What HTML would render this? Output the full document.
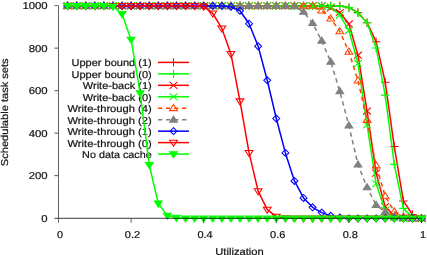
<!DOCTYPE html>
<html><head><meta charset="utf-8"><style>html,body{margin:0;padding:0;background:#fff;overflow:hidden}svg{display:block;will-change:transform}text{text-rendering:geometricPrecision}</style></head>
<body><svg width="427" height="255" viewBox="0 0 427 255"><rect width="427" height="255" fill="#fff"/><text x="47.6" y="221.70" text-anchor="end" font-family="Liberation Sans, sans-serif" font-size="10" fill="#111" stroke="#111" stroke-width="0.2" textLength="6.3" lengthAdjust="spacingAndGlyphs">0</text><text x="47.6" y="179.21" text-anchor="end" font-family="Liberation Sans, sans-serif" font-size="10" fill="#111" stroke="#111" stroke-width="0.2" textLength="18.9" lengthAdjust="spacingAndGlyphs">200</text><text x="47.6" y="136.72" text-anchor="end" font-family="Liberation Sans, sans-serif" font-size="10" fill="#111" stroke="#111" stroke-width="0.2" textLength="18.9" lengthAdjust="spacingAndGlyphs">400</text><text x="47.6" y="94.23" text-anchor="end" font-family="Liberation Sans, sans-serif" font-size="10" fill="#111" stroke="#111" stroke-width="0.2" textLength="18.9" lengthAdjust="spacingAndGlyphs">600</text><text x="47.6" y="51.74" text-anchor="end" font-family="Liberation Sans, sans-serif" font-size="10" fill="#111" stroke="#111" stroke-width="0.2" textLength="18.9" lengthAdjust="spacingAndGlyphs">800</text><text x="47.6" y="9.25" text-anchor="end" font-family="Liberation Sans, sans-serif" font-size="10" fill="#111" stroke="#111" stroke-width="0.2" textLength="25.2" lengthAdjust="spacingAndGlyphs">1000</text><text x="59.90" y="237.9" text-anchor="middle" font-family="Liberation Sans, sans-serif" font-size="10" fill="#111" stroke="#111" stroke-width="0.2" textLength="6.0" lengthAdjust="spacingAndGlyphs">0</text><text x="132.50" y="237.9" text-anchor="middle" font-family="Liberation Sans, sans-serif" font-size="10" fill="#111" stroke="#111" stroke-width="0.2" textLength="15.3" lengthAdjust="spacingAndGlyphs">0.2</text><text x="205.10" y="237.9" text-anchor="middle" font-family="Liberation Sans, sans-serif" font-size="10" fill="#111" stroke="#111" stroke-width="0.2" textLength="15.3" lengthAdjust="spacingAndGlyphs">0.4</text><text x="277.70" y="237.9" text-anchor="middle" font-family="Liberation Sans, sans-serif" font-size="10" fill="#111" stroke="#111" stroke-width="0.2" textLength="15.3" lengthAdjust="spacingAndGlyphs">0.6</text><text x="350.30" y="237.9" text-anchor="middle" font-family="Liberation Sans, sans-serif" font-size="10" fill="#111" stroke="#111" stroke-width="0.2" textLength="15.3" lengthAdjust="spacingAndGlyphs">0.8</text><text x="422.90" y="237.9" text-anchor="middle" font-family="Liberation Sans, sans-serif" font-size="10" fill="#111" stroke="#111" stroke-width="0.2" textLength="6.0" lengthAdjust="spacingAndGlyphs">1</text><text x="239.5" y="254.6" text-anchor="middle" font-family="Liberation Sans, sans-serif" font-size="10" fill="#111" stroke="#111" stroke-width="0.2" textLength="48.5" lengthAdjust="spacingAndGlyphs">Utilization</text><text transform="translate(8.2 112.3) rotate(-90)" x="0" y="0" text-anchor="middle" font-family="Liberation Sans, sans-serif" font-size="10" fill="#111" stroke="#111" stroke-width="0.2" textLength="107.8" lengthAdjust="spacingAndGlyphs">Schedulable task sets</text><text x="151.7" y="66.30" text-anchor="end" font-family="Liberation Sans, sans-serif" font-size="10" fill="#111" stroke="#111" stroke-width="0.2" textLength="80.2" lengthAdjust="spacingAndGlyphs">Upper bound (1)</text><path d="M158.0 62.40H189.0" stroke="#ff0000" stroke-width="1.5" fill="none"/><path d="M169.30 62.40H177.70M173.50 58.20V66.60" stroke="#ff0000" stroke-width="1.05" fill="none"/><path d="M67.58 5.90L76.65 5.90L85.73 5.90L94.80 5.90L103.88 5.90L112.95 5.90L122.03 5.90L131.10 5.90L140.18 5.90L149.25 5.90L158.32 5.90L167.40 5.90L176.48 5.90L185.55 5.90L194.62 5.90L203.70 5.90L212.78 5.90L221.85 5.90L230.93 5.90L240.00 5.90L249.08 5.90L258.15 5.90L267.23 5.90L276.30 5.90L285.38 5.90L294.45 5.90L303.52 5.90L312.60 5.90L321.68 5.90L330.75 5.90L339.82 5.90L348.90 7.60L357.98 12.49L367.05 22.68L376.12 41.80L385.20 82.17L394.28 146.54L403.35 200.93L412.43 214.53L421.50 218.35" stroke="#ff0000" stroke-width="1.5" fill="none" stroke-linejoin="round"/><path d="M63.38 5.90H71.78M67.58 1.70V10.10" stroke="#ff0000" stroke-width="1.05" fill="none"/><path d="M72.45 5.90H80.85M76.65 1.70V10.10" stroke="#ff0000" stroke-width="1.05" fill="none"/><path d="M81.53 5.90H89.93M85.73 1.70V10.10" stroke="#ff0000" stroke-width="1.05" fill="none"/><path d="M90.60 5.90H99.00M94.80 1.70V10.10" stroke="#ff0000" stroke-width="1.05" fill="none"/><path d="M99.67 5.90H108.08M103.88 1.70V10.10" stroke="#ff0000" stroke-width="1.05" fill="none"/><path d="M108.75 5.90H117.15M112.95 1.70V10.10" stroke="#ff0000" stroke-width="1.05" fill="none"/><path d="M117.83 5.90H126.23M122.03 1.70V10.10" stroke="#ff0000" stroke-width="1.05" fill="none"/><path d="M126.90 5.90H135.30M131.10 1.70V10.10" stroke="#ff0000" stroke-width="1.05" fill="none"/><path d="M135.98 5.90H144.38M140.18 1.70V10.10" stroke="#ff0000" stroke-width="1.05" fill="none"/><path d="M145.05 5.90H153.45M149.25 1.70V10.10" stroke="#ff0000" stroke-width="1.05" fill="none"/><path d="M154.12 5.90H162.52M158.32 1.70V10.10" stroke="#ff0000" stroke-width="1.05" fill="none"/><path d="M163.20 5.90H171.60M167.40 1.70V10.10" stroke="#ff0000" stroke-width="1.05" fill="none"/><path d="M172.28 5.90H180.68M176.48 1.70V10.10" stroke="#ff0000" stroke-width="1.05" fill="none"/><path d="M181.35 5.90H189.75M185.55 1.70V10.10" stroke="#ff0000" stroke-width="1.05" fill="none"/><path d="M190.43 5.90H198.82M194.62 1.70V10.10" stroke="#ff0000" stroke-width="1.05" fill="none"/><path d="M199.50 5.90H207.90M203.70 1.70V10.10" stroke="#ff0000" stroke-width="1.05" fill="none"/><path d="M208.58 5.90H216.97M212.78 1.70V10.10" stroke="#ff0000" stroke-width="1.05" fill="none"/><path d="M217.65 5.90H226.05M221.85 1.70V10.10" stroke="#ff0000" stroke-width="1.05" fill="none"/><path d="M226.73 5.90H235.12M230.93 1.70V10.10" stroke="#ff0000" stroke-width="1.05" fill="none"/><path d="M235.80 5.90H244.20M240.00 1.70V10.10" stroke="#ff0000" stroke-width="1.05" fill="none"/><path d="M244.88 5.90H253.28M249.08 1.70V10.10" stroke="#ff0000" stroke-width="1.05" fill="none"/><path d="M253.95 5.90H262.35M258.15 1.70V10.10" stroke="#ff0000" stroke-width="1.05" fill="none"/><path d="M263.03 5.90H271.43M267.23 1.70V10.10" stroke="#ff0000" stroke-width="1.05" fill="none"/><path d="M272.10 5.90H280.50M276.30 1.70V10.10" stroke="#ff0000" stroke-width="1.05" fill="none"/><path d="M281.18 5.90H289.57M285.38 1.70V10.10" stroke="#ff0000" stroke-width="1.05" fill="none"/><path d="M290.25 5.90H298.65M294.45 1.70V10.10" stroke="#ff0000" stroke-width="1.05" fill="none"/><path d="M299.32 5.90H307.72M303.52 1.70V10.10" stroke="#ff0000" stroke-width="1.05" fill="none"/><path d="M308.40 5.90H316.80M312.60 1.70V10.10" stroke="#ff0000" stroke-width="1.05" fill="none"/><path d="M317.48 5.90H325.88M321.68 1.70V10.10" stroke="#ff0000" stroke-width="1.05" fill="none"/><path d="M326.55 5.90H334.95M330.75 1.70V10.10" stroke="#ff0000" stroke-width="1.05" fill="none"/><path d="M335.62 5.90H344.02M339.82 1.70V10.10" stroke="#ff0000" stroke-width="1.05" fill="none"/><path d="M344.70 7.60H353.10M348.90 3.40V11.80" stroke="#ff0000" stroke-width="1.05" fill="none"/><path d="M353.78 12.49H362.18M357.98 8.29V16.69" stroke="#ff0000" stroke-width="1.05" fill="none"/><path d="M362.85 22.68H371.25M367.05 18.48V26.88" stroke="#ff0000" stroke-width="1.05" fill="none"/><path d="M371.93 41.80H380.32M376.12 37.60V46.00" stroke="#ff0000" stroke-width="1.05" fill="none"/><path d="M381.00 82.17H389.40M385.20 77.97V86.37" stroke="#ff0000" stroke-width="1.05" fill="none"/><path d="M390.08 146.54H398.48M394.28 142.34V150.74" stroke="#ff0000" stroke-width="1.05" fill="none"/><path d="M399.15 200.93H407.55M403.35 196.73V205.13" stroke="#ff0000" stroke-width="1.05" fill="none"/><path d="M408.23 214.53H416.62M412.43 210.33V218.73" stroke="#ff0000" stroke-width="1.05" fill="none"/><path d="M417.30 218.35H425.70M421.50 214.15V222.55" stroke="#ff0000" stroke-width="1.05" fill="none"/><text x="151.7" y="77.76" text-anchor="end" font-family="Liberation Sans, sans-serif" font-size="10" fill="#111" stroke="#111" stroke-width="0.2" textLength="80.2" lengthAdjust="spacingAndGlyphs">Upper bound (0)</text><path d="M158.0 73.86H189.0" stroke="#00ff00" stroke-width="1.5" fill="none"/><path d="M169.30 73.86H177.70M173.50 69.66V78.06" stroke="#00ff00" stroke-width="1.05" fill="none"/><path d="M67.58 5.90L76.65 5.90L85.73 5.90L94.80 5.90L103.88 5.90L112.95 5.90L122.03 5.90L131.10 5.90L140.18 5.90L149.25 5.90L158.32 5.90L167.40 5.90L176.48 5.90L185.55 5.90L194.62 5.90L203.70 5.90L212.78 5.90L221.85 5.90L230.93 5.90L240.00 5.90L249.08 5.90L258.15 5.90L267.23 5.90L276.30 5.90L285.38 5.90L294.45 5.90L303.52 5.90L312.60 5.90L321.68 5.90L330.75 5.90L339.82 5.90L348.90 7.60L357.98 12.91L367.05 22.68L376.12 47.97L385.20 95.13L394.28 164.39L403.35 208.36L412.43 217.29L421.50 218.35" stroke="#00ff00" stroke-width="1.5" fill="none" stroke-linejoin="round"/><path d="M63.38 5.90H71.78M67.58 1.70V10.10" stroke="#00ff00" stroke-width="1.05" fill="none"/><path d="M72.45 5.90H80.85M76.65 1.70V10.10" stroke="#00ff00" stroke-width="1.05" fill="none"/><path d="M81.53 5.90H89.93M85.73 1.70V10.10" stroke="#00ff00" stroke-width="1.05" fill="none"/><path d="M90.60 5.90H99.00M94.80 1.70V10.10" stroke="#00ff00" stroke-width="1.05" fill="none"/><path d="M99.67 5.90H108.08M103.88 1.70V10.10" stroke="#00ff00" stroke-width="1.05" fill="none"/><path d="M108.75 5.90H117.15M112.95 1.70V10.10" stroke="#00ff00" stroke-width="1.05" fill="none"/><path d="M117.83 5.90H126.23M122.03 1.70V10.10" stroke="#00ff00" stroke-width="1.05" fill="none"/><path d="M126.90 5.90H135.30M131.10 1.70V10.10" stroke="#00ff00" stroke-width="1.05" fill="none"/><path d="M135.98 5.90H144.38M140.18 1.70V10.10" stroke="#00ff00" stroke-width="1.05" fill="none"/><path d="M145.05 5.90H153.45M149.25 1.70V10.10" stroke="#00ff00" stroke-width="1.05" fill="none"/><path d="M154.12 5.90H162.52M158.32 1.70V10.10" stroke="#00ff00" stroke-width="1.05" fill="none"/><path d="M163.20 5.90H171.60M167.40 1.70V10.10" stroke="#00ff00" stroke-width="1.05" fill="none"/><path d="M172.28 5.90H180.68M176.48 1.70V10.10" stroke="#00ff00" stroke-width="1.05" fill="none"/><path d="M181.35 5.90H189.75M185.55 1.70V10.10" stroke="#00ff00" stroke-width="1.05" fill="none"/><path d="M190.43 5.90H198.82M194.62 1.70V10.10" stroke="#00ff00" stroke-width="1.05" fill="none"/><path d="M199.50 5.90H207.90M203.70 1.70V10.10" stroke="#00ff00" stroke-width="1.05" fill="none"/><path d="M208.58 5.90H216.97M212.78 1.70V10.10" stroke="#00ff00" stroke-width="1.05" fill="none"/><path d="M217.65 5.90H226.05M221.85 1.70V10.10" stroke="#00ff00" stroke-width="1.05" fill="none"/><path d="M226.73 5.90H235.12M230.93 1.70V10.10" stroke="#00ff00" stroke-width="1.05" fill="none"/><path d="M235.80 5.90H244.20M240.00 1.70V10.10" stroke="#00ff00" stroke-width="1.05" fill="none"/><path d="M244.88 5.90H253.28M249.08 1.70V10.10" stroke="#00ff00" stroke-width="1.05" fill="none"/><path d="M253.95 5.90H262.35M258.15 1.70V10.10" stroke="#00ff00" stroke-width="1.05" fill="none"/><path d="M263.03 5.90H271.43M267.23 1.70V10.10" stroke="#00ff00" stroke-width="1.05" fill="none"/><path d="M272.10 5.90H280.50M276.30 1.70V10.10" stroke="#00ff00" stroke-width="1.05" fill="none"/><path d="M281.18 5.90H289.57M285.38 1.70V10.10" stroke="#00ff00" stroke-width="1.05" fill="none"/><path d="M290.25 5.90H298.65M294.45 1.70V10.10" stroke="#00ff00" stroke-width="1.05" fill="none"/><path d="M299.32 5.90H307.72M303.52 1.70V10.10" stroke="#00ff00" stroke-width="1.05" fill="none"/><path d="M308.40 5.90H316.80M312.60 1.70V10.10" stroke="#00ff00" stroke-width="1.05" fill="none"/><path d="M317.48 5.90H325.88M321.68 1.70V10.10" stroke="#00ff00" stroke-width="1.05" fill="none"/><path d="M326.55 5.90H334.95M330.75 1.70V10.10" stroke="#00ff00" stroke-width="1.05" fill="none"/><path d="M335.62 5.90H344.02M339.82 1.70V10.10" stroke="#00ff00" stroke-width="1.05" fill="none"/><path d="M344.70 7.60H353.10M348.90 3.40V11.80" stroke="#00ff00" stroke-width="1.05" fill="none"/><path d="M353.78 12.91H362.18M357.98 8.71V17.11" stroke="#00ff00" stroke-width="1.05" fill="none"/><path d="M362.85 22.68H371.25M367.05 18.48V26.88" stroke="#00ff00" stroke-width="1.05" fill="none"/><path d="M371.93 47.97H380.32M376.12 43.77V52.17" stroke="#00ff00" stroke-width="1.05" fill="none"/><path d="M381.00 95.13H389.40M385.20 90.93V99.33" stroke="#00ff00" stroke-width="1.05" fill="none"/><path d="M390.08 164.39H398.48M394.28 160.19V168.59" stroke="#00ff00" stroke-width="1.05" fill="none"/><path d="M399.15 208.36H407.55M403.35 204.16V212.56" stroke="#00ff00" stroke-width="1.05" fill="none"/><path d="M408.23 217.29H416.62M412.43 213.09V221.49" stroke="#00ff00" stroke-width="1.05" fill="none"/><path d="M417.30 218.35H425.70M421.50 214.15V222.55" stroke="#00ff00" stroke-width="1.05" fill="none"/><text x="151.7" y="89.22" text-anchor="end" font-family="Liberation Sans, sans-serif" font-size="10" fill="#111" stroke="#111" stroke-width="0.2" textLength="68.9" lengthAdjust="spacingAndGlyphs">Write-back (1)</text><path d="M158.0 85.32H189.0" stroke="#ff0000" stroke-width="1.5" fill="none"/><path d="M169.60 81.87L177.40 88.77M169.60 88.77L177.40 81.87" stroke="#ff0000" stroke-width="1.05" fill="none"/><path d="M67.58 5.90L76.65 5.90L85.73 5.90L94.80 5.90L103.88 5.90L112.95 5.90L122.03 5.90L131.10 5.90L140.18 5.90L149.25 5.90L158.32 5.90L167.40 5.90L176.48 5.90L185.55 5.90L194.62 5.90L203.70 5.90L212.78 5.90L221.85 5.90L230.93 5.90L240.00 5.90L249.08 5.90L258.15 5.90L267.23 5.90L276.30 5.90L285.38 5.90L294.45 5.90L303.52 5.90L312.60 5.90L321.68 5.90L330.75 8.02L339.82 12.49L348.90 23.96L357.98 55.19L367.05 111.06L376.12 173.10L385.20 206.67L394.28 215.80L403.35 217.93L412.43 218.35L421.50 218.35" stroke="#ff0000" stroke-width="1.5" fill="none" stroke-linejoin="round"/><path d="M63.68 2.45L71.48 9.35M63.68 9.35L71.48 2.45" stroke="#ff0000" stroke-width="1.05" fill="none"/><path d="M72.75 2.45L80.55 9.35M72.75 9.35L80.55 2.45" stroke="#ff0000" stroke-width="1.05" fill="none"/><path d="M81.83 2.45L89.63 9.35M81.83 9.35L89.63 2.45" stroke="#ff0000" stroke-width="1.05" fill="none"/><path d="M90.90 2.45L98.70 9.35M90.90 9.35L98.70 2.45" stroke="#ff0000" stroke-width="1.05" fill="none"/><path d="M99.97 2.45L107.78 9.35M99.97 9.35L107.78 2.45" stroke="#ff0000" stroke-width="1.05" fill="none"/><path d="M109.05 2.45L116.85 9.35M109.05 9.35L116.85 2.45" stroke="#ff0000" stroke-width="1.05" fill="none"/><path d="M118.12 2.45L125.93 9.35M118.12 9.35L125.93 2.45" stroke="#ff0000" stroke-width="1.05" fill="none"/><path d="M127.20 2.45L135.00 9.35M127.20 9.35L135.00 2.45" stroke="#ff0000" stroke-width="1.05" fill="none"/><path d="M136.28 2.45L144.08 9.35M136.28 9.35L144.08 2.45" stroke="#ff0000" stroke-width="1.05" fill="none"/><path d="M145.35 2.45L153.15 9.35M145.35 9.35L153.15 2.45" stroke="#ff0000" stroke-width="1.05" fill="none"/><path d="M154.42 2.45L162.22 9.35M154.42 9.35L162.22 2.45" stroke="#ff0000" stroke-width="1.05" fill="none"/><path d="M163.50 2.45L171.30 9.35M163.50 9.35L171.30 2.45" stroke="#ff0000" stroke-width="1.05" fill="none"/><path d="M172.58 2.45L180.38 9.35M172.58 9.35L180.38 2.45" stroke="#ff0000" stroke-width="1.05" fill="none"/><path d="M181.65 2.45L189.45 9.35M181.65 9.35L189.45 2.45" stroke="#ff0000" stroke-width="1.05" fill="none"/><path d="M190.72 2.45L198.53 9.35M190.72 9.35L198.53 2.45" stroke="#ff0000" stroke-width="1.05" fill="none"/><path d="M199.80 2.45L207.60 9.35M199.80 9.35L207.60 2.45" stroke="#ff0000" stroke-width="1.05" fill="none"/><path d="M208.88 2.45L216.68 9.35M208.88 9.35L216.68 2.45" stroke="#ff0000" stroke-width="1.05" fill="none"/><path d="M217.95 2.45L225.75 9.35M217.95 9.35L225.75 2.45" stroke="#ff0000" stroke-width="1.05" fill="none"/><path d="M227.03 2.45L234.83 9.35M227.03 9.35L234.83 2.45" stroke="#ff0000" stroke-width="1.05" fill="none"/><path d="M236.10 2.45L243.90 9.35M236.10 9.35L243.90 2.45" stroke="#ff0000" stroke-width="1.05" fill="none"/><path d="M245.18 2.45L252.98 9.35M245.18 9.35L252.98 2.45" stroke="#ff0000" stroke-width="1.05" fill="none"/><path d="M254.25 2.45L262.05 9.35M254.25 9.35L262.05 2.45" stroke="#ff0000" stroke-width="1.05" fill="none"/><path d="M263.33 2.45L271.12 9.35M263.33 9.35L271.12 2.45" stroke="#ff0000" stroke-width="1.05" fill="none"/><path d="M272.40 2.45L280.20 9.35M272.40 9.35L280.20 2.45" stroke="#ff0000" stroke-width="1.05" fill="none"/><path d="M281.48 2.45L289.27 9.35M281.48 9.35L289.27 2.45" stroke="#ff0000" stroke-width="1.05" fill="none"/><path d="M290.55 2.45L298.35 9.35M290.55 9.35L298.35 2.45" stroke="#ff0000" stroke-width="1.05" fill="none"/><path d="M299.62 2.45L307.42 9.35M299.62 9.35L307.42 2.45" stroke="#ff0000" stroke-width="1.05" fill="none"/><path d="M308.70 2.45L316.50 9.35M308.70 9.35L316.50 2.45" stroke="#ff0000" stroke-width="1.05" fill="none"/><path d="M317.78 2.45L325.57 9.35M317.78 9.35L325.57 2.45" stroke="#ff0000" stroke-width="1.05" fill="none"/><path d="M326.85 4.57L334.65 11.47M326.85 11.47L334.65 4.57" stroke="#ff0000" stroke-width="1.05" fill="none"/><path d="M335.93 9.04L343.72 15.94M335.93 15.94L343.72 9.04" stroke="#ff0000" stroke-width="1.05" fill="none"/><path d="M345.00 20.51L352.80 27.41M345.00 27.41L352.80 20.51" stroke="#ff0000" stroke-width="1.05" fill="none"/><path d="M354.08 51.74L361.88 58.64M354.08 58.64L361.88 51.74" stroke="#ff0000" stroke-width="1.05" fill="none"/><path d="M363.15 107.61L370.95 114.51M363.15 114.51L370.95 107.61" stroke="#ff0000" stroke-width="1.05" fill="none"/><path d="M372.23 169.65L380.02 176.55M372.23 176.55L380.02 169.65" stroke="#ff0000" stroke-width="1.05" fill="none"/><path d="M381.30 203.22L389.10 210.12M381.30 210.12L389.10 203.22" stroke="#ff0000" stroke-width="1.05" fill="none"/><path d="M390.38 212.35L398.18 219.25M390.38 219.25L398.18 212.35" stroke="#ff0000" stroke-width="1.05" fill="none"/><path d="M399.45 214.48L407.25 221.38M399.45 221.38L407.25 214.48" stroke="#ff0000" stroke-width="1.05" fill="none"/><path d="M408.53 214.90L416.32 221.80M408.53 221.80L416.32 214.90" stroke="#ff0000" stroke-width="1.05" fill="none"/><path d="M417.60 214.90L425.40 221.80M417.60 221.80L425.40 214.90" stroke="#ff0000" stroke-width="1.05" fill="none"/><text x="151.7" y="100.68" text-anchor="end" font-family="Liberation Sans, sans-serif" font-size="10" fill="#111" stroke="#111" stroke-width="0.2" textLength="68.9" lengthAdjust="spacingAndGlyphs">Write-back (0)</text><path d="M158.0 96.78H189.0" stroke="#00ff00" stroke-width="1.5" fill="none"/><path d="M169.60 93.33L177.40 100.23M169.60 100.23L177.40 93.33" stroke="#00ff00" stroke-width="1.05" fill="none"/><path d="M67.58 5.90L76.65 5.90L85.73 5.90L94.80 5.90L103.88 5.90L112.95 5.90L122.03 5.90L131.10 5.90L140.18 5.90L149.25 5.90L158.32 5.90L167.40 5.90L176.48 5.90L185.55 5.90L194.62 5.90L203.70 5.90L212.78 5.90L221.85 5.90L230.93 5.90L240.00 5.90L249.08 5.90L258.15 5.90L267.23 5.90L276.30 5.90L285.38 5.90L294.45 5.90L303.52 5.90L312.60 5.90L321.68 5.90L330.75 6.96L339.82 15.04L348.90 30.54L357.98 63.47L367.05 124.87L376.12 183.72L385.20 210.28L394.28 217.29L403.35 218.35L412.43 218.35L421.50 218.35" stroke="#00ff00" stroke-width="1.5" fill="none" stroke-linejoin="round"/><path d="M63.68 2.45L71.48 9.35M63.68 9.35L71.48 2.45" stroke="#00ff00" stroke-width="1.05" fill="none"/><path d="M72.75 2.45L80.55 9.35M72.75 9.35L80.55 2.45" stroke="#00ff00" stroke-width="1.05" fill="none"/><path d="M81.83 2.45L89.63 9.35M81.83 9.35L89.63 2.45" stroke="#00ff00" stroke-width="1.05" fill="none"/><path d="M90.90 2.45L98.70 9.35M90.90 9.35L98.70 2.45" stroke="#00ff00" stroke-width="1.05" fill="none"/><path d="M99.97 2.45L107.78 9.35M99.97 9.35L107.78 2.45" stroke="#00ff00" stroke-width="1.05" fill="none"/><path d="M109.05 2.45L116.85 9.35M109.05 9.35L116.85 2.45" stroke="#00ff00" stroke-width="1.05" fill="none"/><path d="M118.12 2.45L125.93 9.35M118.12 9.35L125.93 2.45" stroke="#00ff00" stroke-width="1.05" fill="none"/><path d="M127.20 2.45L135.00 9.35M127.20 9.35L135.00 2.45" stroke="#00ff00" stroke-width="1.05" fill="none"/><path d="M136.28 2.45L144.08 9.35M136.28 9.35L144.08 2.45" stroke="#00ff00" stroke-width="1.05" fill="none"/><path d="M145.35 2.45L153.15 9.35M145.35 9.35L153.15 2.45" stroke="#00ff00" stroke-width="1.05" fill="none"/><path d="M154.42 2.45L162.22 9.35M154.42 9.35L162.22 2.45" stroke="#00ff00" stroke-width="1.05" fill="none"/><path d="M163.50 2.45L171.30 9.35M163.50 9.35L171.30 2.45" stroke="#00ff00" stroke-width="1.05" fill="none"/><path d="M172.58 2.45L180.38 9.35M172.58 9.35L180.38 2.45" stroke="#00ff00" stroke-width="1.05" fill="none"/><path d="M181.65 2.45L189.45 9.35M181.65 9.35L189.45 2.45" stroke="#00ff00" stroke-width="1.05" fill="none"/><path d="M190.72 2.45L198.53 9.35M190.72 9.35L198.53 2.45" stroke="#00ff00" stroke-width="1.05" fill="none"/><path d="M199.80 2.45L207.60 9.35M199.80 9.35L207.60 2.45" stroke="#00ff00" stroke-width="1.05" fill="none"/><path d="M208.88 2.45L216.68 9.35M208.88 9.35L216.68 2.45" stroke="#00ff00" stroke-width="1.05" fill="none"/><path d="M217.95 2.45L225.75 9.35M217.95 9.35L225.75 2.45" stroke="#00ff00" stroke-width="1.05" fill="none"/><path d="M227.03 2.45L234.83 9.35M227.03 9.35L234.83 2.45" stroke="#00ff00" stroke-width="1.05" fill="none"/><path d="M236.10 2.45L243.90 9.35M236.10 9.35L243.90 2.45" stroke="#00ff00" stroke-width="1.05" fill="none"/><path d="M245.18 2.45L252.98 9.35M245.18 9.35L252.98 2.45" stroke="#00ff00" stroke-width="1.05" fill="none"/><path d="M254.25 2.45L262.05 9.35M254.25 9.35L262.05 2.45" stroke="#00ff00" stroke-width="1.05" fill="none"/><path d="M263.33 2.45L271.12 9.35M263.33 9.35L271.12 2.45" stroke="#00ff00" stroke-width="1.05" fill="none"/><path d="M272.40 2.45L280.20 9.35M272.40 9.35L280.20 2.45" stroke="#00ff00" stroke-width="1.05" fill="none"/><path d="M281.48 2.45L289.27 9.35M281.48 9.35L289.27 2.45" stroke="#00ff00" stroke-width="1.05" fill="none"/><path d="M290.55 2.45L298.35 9.35M290.55 9.35L298.35 2.45" stroke="#00ff00" stroke-width="1.05" fill="none"/><path d="M299.62 2.45L307.42 9.35M299.62 9.35L307.42 2.45" stroke="#00ff00" stroke-width="1.05" fill="none"/><path d="M308.70 2.45L316.50 9.35M308.70 9.35L316.50 2.45" stroke="#00ff00" stroke-width="1.05" fill="none"/><path d="M317.78 2.45L325.57 9.35M317.78 9.35L325.57 2.45" stroke="#00ff00" stroke-width="1.05" fill="none"/><path d="M326.85 3.51L334.65 10.41M326.85 10.41L334.65 3.51" stroke="#00ff00" stroke-width="1.05" fill="none"/><path d="M335.93 11.59L343.72 18.49M335.93 18.49L343.72 11.59" stroke="#00ff00" stroke-width="1.05" fill="none"/><path d="M345.00 27.09L352.80 33.99M345.00 33.99L352.80 27.09" stroke="#00ff00" stroke-width="1.05" fill="none"/><path d="M354.08 60.02L361.88 66.92M354.08 66.92L361.88 60.02" stroke="#00ff00" stroke-width="1.05" fill="none"/><path d="M363.15 121.42L370.95 128.32M363.15 128.32L370.95 121.42" stroke="#00ff00" stroke-width="1.05" fill="none"/><path d="M372.23 180.27L380.02 187.17M372.23 187.17L380.02 180.27" stroke="#00ff00" stroke-width="1.05" fill="none"/><path d="M381.30 206.83L389.10 213.73M381.30 213.73L389.10 206.83" stroke="#00ff00" stroke-width="1.05" fill="none"/><path d="M390.38 213.84L398.18 220.74M390.38 220.74L398.18 213.84" stroke="#00ff00" stroke-width="1.05" fill="none"/><path d="M399.45 214.90L407.25 221.80M399.45 221.80L407.25 214.90" stroke="#00ff00" stroke-width="1.05" fill="none"/><path d="M408.53 214.90L416.32 221.80M408.53 221.80L416.32 214.90" stroke="#00ff00" stroke-width="1.05" fill="none"/><path d="M417.60 214.90L425.40 221.80M417.60 221.80L425.40 214.90" stroke="#00ff00" stroke-width="1.05" fill="none"/><text x="151.7" y="112.14" text-anchor="end" font-family="Liberation Sans, sans-serif" font-size="10" fill="#111" stroke="#111" stroke-width="0.2" textLength="84.2" lengthAdjust="spacingAndGlyphs">Write-through (4)</text><path d="M158.0 108.24H189.0" stroke="#ff4500" stroke-width="1.5" stroke-dasharray="4.4,3.6" fill="none"/><path d="M173.50 104.54L177.40 110.64H169.60Z" stroke="#ff4500" stroke-width="1.05" fill="none"/><path d="M67.58 5.90L76.65 5.90L85.73 5.90L94.80 5.90L103.88 5.90L112.95 5.90L122.03 5.90L131.10 5.90L140.18 5.90L149.25 5.90L158.32 5.90L167.40 5.90L176.48 5.90L185.55 5.90L194.62 5.90L203.70 5.90L212.78 5.90L221.85 5.90L230.93 5.90L240.00 5.90L249.08 5.90L258.15 5.90L267.23 5.90L276.30 5.90L285.38 5.90L294.45 5.90L303.52 5.90L312.60 5.90L321.68 10.57L330.75 18.65L339.82 31.39L348.90 51.79L357.98 80.68L367.05 119.99L376.12 165.45L385.20 196.26L394.28 211.55L403.35 216.65L412.43 218.35L421.50 218.35" stroke="#ff4500" stroke-width="1.5" stroke-dasharray="4.4,3.6" fill="none" stroke-linejoin="round"/><path d="M67.58 2.20L71.48 8.30H63.68Z" stroke="#ff4500" stroke-width="1.05" fill="none"/><path d="M76.65 2.20L80.55 8.30H72.75Z" stroke="#ff4500" stroke-width="1.05" fill="none"/><path d="M85.73 2.20L89.63 8.30H81.83Z" stroke="#ff4500" stroke-width="1.05" fill="none"/><path d="M94.80 2.20L98.70 8.30H90.90Z" stroke="#ff4500" stroke-width="1.05" fill="none"/><path d="M103.88 2.20L107.78 8.30H99.97Z" stroke="#ff4500" stroke-width="1.05" fill="none"/><path d="M112.95 2.20L116.85 8.30H109.05Z" stroke="#ff4500" stroke-width="1.05" fill="none"/><path d="M122.03 2.20L125.93 8.30H118.12Z" stroke="#ff4500" stroke-width="1.05" fill="none"/><path d="M131.10 2.20L135.00 8.30H127.20Z" stroke="#ff4500" stroke-width="1.05" fill="none"/><path d="M140.18 2.20L144.08 8.30H136.28Z" stroke="#ff4500" stroke-width="1.05" fill="none"/><path d="M149.25 2.20L153.15 8.30H145.35Z" stroke="#ff4500" stroke-width="1.05" fill="none"/><path d="M158.32 2.20L162.22 8.30H154.42Z" stroke="#ff4500" stroke-width="1.05" fill="none"/><path d="M167.40 2.20L171.30 8.30H163.50Z" stroke="#ff4500" stroke-width="1.05" fill="none"/><path d="M176.48 2.20L180.38 8.30H172.58Z" stroke="#ff4500" stroke-width="1.05" fill="none"/><path d="M185.55 2.20L189.45 8.30H181.65Z" stroke="#ff4500" stroke-width="1.05" fill="none"/><path d="M194.62 2.20L198.53 8.30H190.72Z" stroke="#ff4500" stroke-width="1.05" fill="none"/><path d="M203.70 2.20L207.60 8.30H199.80Z" stroke="#ff4500" stroke-width="1.05" fill="none"/><path d="M212.78 2.20L216.68 8.30H208.88Z" stroke="#ff4500" stroke-width="1.05" fill="none"/><path d="M221.85 2.20L225.75 8.30H217.95Z" stroke="#ff4500" stroke-width="1.05" fill="none"/><path d="M230.93 2.20L234.83 8.30H227.03Z" stroke="#ff4500" stroke-width="1.05" fill="none"/><path d="M240.00 2.20L243.90 8.30H236.10Z" stroke="#ff4500" stroke-width="1.05" fill="none"/><path d="M249.08 2.20L252.98 8.30H245.18Z" stroke="#ff4500" stroke-width="1.05" fill="none"/><path d="M258.15 2.20L262.05 8.30H254.25Z" stroke="#ff4500" stroke-width="1.05" fill="none"/><path d="M267.23 2.20L271.12 8.30H263.33Z" stroke="#ff4500" stroke-width="1.05" fill="none"/><path d="M276.30 2.20L280.20 8.30H272.40Z" stroke="#ff4500" stroke-width="1.05" fill="none"/><path d="M285.38 2.20L289.27 8.30H281.48Z" stroke="#ff4500" stroke-width="1.05" fill="none"/><path d="M294.45 2.20L298.35 8.30H290.55Z" stroke="#ff4500" stroke-width="1.05" fill="none"/><path d="M303.52 2.20L307.42 8.30H299.62Z" stroke="#ff4500" stroke-width="1.05" fill="none"/><path d="M312.60 2.20L316.50 8.30H308.70Z" stroke="#ff4500" stroke-width="1.05" fill="none"/><path d="M321.68 6.87L325.57 12.97H317.78Z" stroke="#ff4500" stroke-width="1.05" fill="none"/><path d="M330.75 14.95L334.65 21.05H326.85Z" stroke="#ff4500" stroke-width="1.05" fill="none"/><path d="M339.82 27.69L343.72 33.79H335.93Z" stroke="#ff4500" stroke-width="1.05" fill="none"/><path d="M348.90 48.09L352.80 54.19H345.00Z" stroke="#ff4500" stroke-width="1.05" fill="none"/><path d="M357.98 76.98L361.88 83.08H354.08Z" stroke="#ff4500" stroke-width="1.05" fill="none"/><path d="M367.05 116.29L370.95 122.39H363.15Z" stroke="#ff4500" stroke-width="1.05" fill="none"/><path d="M376.12 161.75L380.02 167.85H372.23Z" stroke="#ff4500" stroke-width="1.05" fill="none"/><path d="M385.20 192.56L389.10 198.66H381.30Z" stroke="#ff4500" stroke-width="1.05" fill="none"/><path d="M394.28 207.85L398.18 213.95H390.38Z" stroke="#ff4500" stroke-width="1.05" fill="none"/><path d="M403.35 212.95L407.25 219.05H399.45Z" stroke="#ff4500" stroke-width="1.05" fill="none"/><path d="M412.43 214.65L416.32 220.75H408.53Z" stroke="#ff4500" stroke-width="1.05" fill="none"/><path d="M421.50 214.65L425.40 220.75H417.60Z" stroke="#ff4500" stroke-width="1.05" fill="none"/><text x="151.7" y="123.60" text-anchor="end" font-family="Liberation Sans, sans-serif" font-size="10" fill="#111" stroke="#111" stroke-width="0.2" textLength="84.2" lengthAdjust="spacingAndGlyphs">Write-through (2)</text><path d="M158.0 119.70H189.0" stroke="#808080" stroke-width="1.5" stroke-dasharray="4.4,3.6" fill="none"/><path d="M173.50 116.00L177.40 122.10H169.60Z" stroke="#808080" stroke-width="1.05" fill="#808080"/><path d="M67.58 5.90L76.65 5.90L85.73 5.90L94.80 5.90L103.88 5.90L112.95 5.90L122.03 5.90L131.10 5.90L140.18 5.90L149.25 5.90L158.32 5.90L167.40 5.90L176.48 5.90L185.55 5.90L194.62 5.90L203.70 5.90L212.78 5.90L221.85 5.90L230.93 5.90L240.00 5.90L249.08 5.90L258.15 5.90L267.23 5.90L276.30 5.90L285.38 5.90L294.45 6.32L303.52 11.85L312.60 23.11L321.68 40.74L330.75 61.77L339.82 91.30L348.90 125.51L357.98 164.60L367.05 187.33L376.12 204.97L385.20 211.98L394.28 216.23L403.35 217.93L412.43 218.35L421.50 218.35" stroke="#808080" stroke-width="1.5" stroke-dasharray="4.4,3.6" fill="none" stroke-linejoin="round"/><path d="M67.58 2.20L71.48 8.30H63.68Z" stroke="#808080" stroke-width="1.05" fill="#808080"/><path d="M76.65 2.20L80.55 8.30H72.75Z" stroke="#808080" stroke-width="1.05" fill="#808080"/><path d="M85.73 2.20L89.63 8.30H81.83Z" stroke="#808080" stroke-width="1.05" fill="#808080"/><path d="M94.80 2.20L98.70 8.30H90.90Z" stroke="#808080" stroke-width="1.05" fill="#808080"/><path d="M103.88 2.20L107.78 8.30H99.97Z" stroke="#808080" stroke-width="1.05" fill="#808080"/><path d="M112.95 2.20L116.85 8.30H109.05Z" stroke="#808080" stroke-width="1.05" fill="#808080"/><path d="M122.03 2.20L125.93 8.30H118.12Z" stroke="#808080" stroke-width="1.05" fill="#808080"/><path d="M131.10 2.20L135.00 8.30H127.20Z" stroke="#808080" stroke-width="1.05" fill="#808080"/><path d="M140.18 2.20L144.08 8.30H136.28Z" stroke="#808080" stroke-width="1.05" fill="#808080"/><path d="M149.25 2.20L153.15 8.30H145.35Z" stroke="#808080" stroke-width="1.05" fill="#808080"/><path d="M158.32 2.20L162.22 8.30H154.42Z" stroke="#808080" stroke-width="1.05" fill="#808080"/><path d="M167.40 2.20L171.30 8.30H163.50Z" stroke="#808080" stroke-width="1.05" fill="#808080"/><path d="M176.48 2.20L180.38 8.30H172.58Z" stroke="#808080" stroke-width="1.05" fill="#808080"/><path d="M185.55 2.20L189.45 8.30H181.65Z" stroke="#808080" stroke-width="1.05" fill="#808080"/><path d="M194.62 2.20L198.53 8.30H190.72Z" stroke="#808080" stroke-width="1.05" fill="#808080"/><path d="M203.70 2.20L207.60 8.30H199.80Z" stroke="#808080" stroke-width="1.05" fill="#808080"/><path d="M212.78 2.20L216.68 8.30H208.88Z" stroke="#808080" stroke-width="1.05" fill="#808080"/><path d="M221.85 2.20L225.75 8.30H217.95Z" stroke="#808080" stroke-width="1.05" fill="#808080"/><path d="M230.93 2.20L234.83 8.30H227.03Z" stroke="#808080" stroke-width="1.05" fill="#808080"/><path d="M240.00 2.20L243.90 8.30H236.10Z" stroke="#808080" stroke-width="1.05" fill="#808080"/><path d="M249.08 2.20L252.98 8.30H245.18Z" stroke="#808080" stroke-width="1.05" fill="#808080"/><path d="M258.15 2.20L262.05 8.30H254.25Z" stroke="#808080" stroke-width="1.05" fill="#808080"/><path d="M267.23 2.20L271.12 8.30H263.33Z" stroke="#808080" stroke-width="1.05" fill="#808080"/><path d="M276.30 2.20L280.20 8.30H272.40Z" stroke="#808080" stroke-width="1.05" fill="#808080"/><path d="M285.38 2.20L289.27 8.30H281.48Z" stroke="#808080" stroke-width="1.05" fill="#808080"/><path d="M294.45 2.62L298.35 8.72H290.55Z" stroke="#808080" stroke-width="1.05" fill="#808080"/><path d="M303.52 8.15L307.42 14.25H299.62Z" stroke="#808080" stroke-width="1.05" fill="#808080"/><path d="M312.60 19.41L316.50 25.51H308.70Z" stroke="#808080" stroke-width="1.05" fill="#808080"/><path d="M321.68 37.04L325.57 43.14H317.78Z" stroke="#808080" stroke-width="1.05" fill="#808080"/><path d="M330.75 58.07L334.65 64.17H326.85Z" stroke="#808080" stroke-width="1.05" fill="#808080"/><path d="M339.82 87.60L343.72 93.70H335.93Z" stroke="#808080" stroke-width="1.05" fill="#808080"/><path d="M348.90 121.81L352.80 127.91H345.00Z" stroke="#808080" stroke-width="1.05" fill="#808080"/><path d="M357.98 160.90L361.88 167.00H354.08Z" stroke="#808080" stroke-width="1.05" fill="#808080"/><path d="M367.05 183.63L370.95 189.73H363.15Z" stroke="#808080" stroke-width="1.05" fill="#808080"/><path d="M376.12 201.27L380.02 207.37H372.23Z" stroke="#808080" stroke-width="1.05" fill="#808080"/><path d="M385.20 208.28L389.10 214.38H381.30Z" stroke="#808080" stroke-width="1.05" fill="#808080"/><path d="M394.28 212.53L398.18 218.63H390.38Z" stroke="#808080" stroke-width="1.05" fill="#808080"/><path d="M403.35 214.23L407.25 220.33H399.45Z" stroke="#808080" stroke-width="1.05" fill="#808080"/><path d="M412.43 214.65L416.32 220.75H408.53Z" stroke="#808080" stroke-width="1.05" fill="#808080"/><path d="M421.50 214.65L425.40 220.75H417.60Z" stroke="#808080" stroke-width="1.05" fill="#808080"/><text x="151.7" y="135.06" text-anchor="end" font-family="Liberation Sans, sans-serif" font-size="10" fill="#111" stroke="#111" stroke-width="0.2" textLength="84.2" lengthAdjust="spacingAndGlyphs">Write-through (1)</text><path d="M158.0 131.16H189.0" stroke="#0000ff" stroke-width="1.5" fill="none"/><path d="M173.50 127.71L176.95 131.16L173.50 134.61L170.05 131.16Z" stroke="#0000ff" stroke-width="1.05" fill="none"/><path d="M67.58 5.90L76.65 5.90L85.73 5.90L94.80 5.90L103.88 5.90L112.95 5.90L122.03 5.90L131.10 5.90L140.18 5.90L149.25 5.90L158.32 5.90L167.40 5.90L176.48 5.90L185.55 5.90L194.62 5.90L203.70 5.90L212.78 5.90L221.85 5.90L230.93 6.75L240.00 10.79L249.08 23.75L258.15 46.27L267.23 80.26L276.30 118.50L285.38 152.92L294.45 180.96L303.52 197.95L312.60 207.30L321.68 212.61L330.75 215.80L339.82 217.50L348.90 218.35L357.98 218.35L367.05 218.35L376.12 218.35L385.20 218.35L394.28 218.35L403.35 218.35L412.43 218.35L421.50 218.35" stroke="#0000ff" stroke-width="1.5" fill="none" stroke-linejoin="round"/><path d="M67.58 2.45L71.03 5.90L67.58 9.35L64.12 5.90Z" stroke="#0000ff" stroke-width="1.05" fill="none"/><path d="M76.65 2.45L80.10 5.90L76.65 9.35L73.20 5.90Z" stroke="#0000ff" stroke-width="1.05" fill="none"/><path d="M85.73 2.45L89.18 5.90L85.73 9.35L82.28 5.90Z" stroke="#0000ff" stroke-width="1.05" fill="none"/><path d="M94.80 2.45L98.25 5.90L94.80 9.35L91.35 5.90Z" stroke="#0000ff" stroke-width="1.05" fill="none"/><path d="M103.88 2.45L107.33 5.90L103.88 9.35L100.42 5.90Z" stroke="#0000ff" stroke-width="1.05" fill="none"/><path d="M112.95 2.45L116.40 5.90L112.95 9.35L109.50 5.90Z" stroke="#0000ff" stroke-width="1.05" fill="none"/><path d="M122.03 2.45L125.48 5.90L122.03 9.35L118.58 5.90Z" stroke="#0000ff" stroke-width="1.05" fill="none"/><path d="M131.10 2.45L134.55 5.90L131.10 9.35L127.65 5.90Z" stroke="#0000ff" stroke-width="1.05" fill="none"/><path d="M140.18 2.45L143.62 5.90L140.18 9.35L136.73 5.90Z" stroke="#0000ff" stroke-width="1.05" fill="none"/><path d="M149.25 2.45L152.70 5.90L149.25 9.35L145.80 5.90Z" stroke="#0000ff" stroke-width="1.05" fill="none"/><path d="M158.32 2.45L161.77 5.90L158.32 9.35L154.88 5.90Z" stroke="#0000ff" stroke-width="1.05" fill="none"/><path d="M167.40 2.45L170.85 5.90L167.40 9.35L163.95 5.90Z" stroke="#0000ff" stroke-width="1.05" fill="none"/><path d="M176.48 2.45L179.93 5.90L176.48 9.35L173.03 5.90Z" stroke="#0000ff" stroke-width="1.05" fill="none"/><path d="M185.55 2.45L189.00 5.90L185.55 9.35L182.10 5.90Z" stroke="#0000ff" stroke-width="1.05" fill="none"/><path d="M194.62 2.45L198.07 5.90L194.62 9.35L191.18 5.90Z" stroke="#0000ff" stroke-width="1.05" fill="none"/><path d="M203.70 2.45L207.15 5.90L203.70 9.35L200.25 5.90Z" stroke="#0000ff" stroke-width="1.05" fill="none"/><path d="M212.78 2.45L216.22 5.90L212.78 9.35L209.33 5.90Z" stroke="#0000ff" stroke-width="1.05" fill="none"/><path d="M221.85 2.45L225.30 5.90L221.85 9.35L218.40 5.90Z" stroke="#0000ff" stroke-width="1.05" fill="none"/><path d="M230.93 3.30L234.38 6.75L230.93 10.20L227.48 6.75Z" stroke="#0000ff" stroke-width="1.05" fill="none"/><path d="M240.00 7.34L243.45 10.79L240.00 14.24L236.55 10.79Z" stroke="#0000ff" stroke-width="1.05" fill="none"/><path d="M249.08 20.30L252.53 23.75L249.08 27.20L245.63 23.75Z" stroke="#0000ff" stroke-width="1.05" fill="none"/><path d="M258.15 42.82L261.60 46.27L258.15 49.72L254.70 46.27Z" stroke="#0000ff" stroke-width="1.05" fill="none"/><path d="M267.23 76.81L270.68 80.26L267.23 83.71L263.78 80.26Z" stroke="#0000ff" stroke-width="1.05" fill="none"/><path d="M276.30 115.05L279.75 118.50L276.30 121.95L272.85 118.50Z" stroke="#0000ff" stroke-width="1.05" fill="none"/><path d="M285.38 149.47L288.82 152.92L285.38 156.37L281.93 152.92Z" stroke="#0000ff" stroke-width="1.05" fill="none"/><path d="M294.45 177.51L297.90 180.96L294.45 184.41L291.00 180.96Z" stroke="#0000ff" stroke-width="1.05" fill="none"/><path d="M303.52 194.50L306.97 197.95L303.52 201.40L300.07 197.95Z" stroke="#0000ff" stroke-width="1.05" fill="none"/><path d="M312.60 203.85L316.05 207.30L312.60 210.75L309.15 207.30Z" stroke="#0000ff" stroke-width="1.05" fill="none"/><path d="M321.68 209.16L325.12 212.61L321.68 216.06L318.23 212.61Z" stroke="#0000ff" stroke-width="1.05" fill="none"/><path d="M330.75 212.35L334.20 215.80L330.75 219.25L327.30 215.80Z" stroke="#0000ff" stroke-width="1.05" fill="none"/><path d="M339.82 214.05L343.27 217.50L339.82 220.95L336.38 217.50Z" stroke="#0000ff" stroke-width="1.05" fill="none"/><path d="M348.90 214.90L352.35 218.35L348.90 221.80L345.45 218.35Z" stroke="#0000ff" stroke-width="1.05" fill="none"/><path d="M357.98 214.90L361.43 218.35L357.98 221.80L354.53 218.35Z" stroke="#0000ff" stroke-width="1.05" fill="none"/><path d="M367.05 214.90L370.50 218.35L367.05 221.80L363.60 218.35Z" stroke="#0000ff" stroke-width="1.05" fill="none"/><path d="M376.12 214.90L379.57 218.35L376.12 221.80L372.68 218.35Z" stroke="#0000ff" stroke-width="1.05" fill="none"/><path d="M385.20 214.90L388.65 218.35L385.20 221.80L381.75 218.35Z" stroke="#0000ff" stroke-width="1.05" fill="none"/><path d="M394.28 214.90L397.73 218.35L394.28 221.80L390.83 218.35Z" stroke="#0000ff" stroke-width="1.05" fill="none"/><path d="M403.35 214.90L406.80 218.35L403.35 221.80L399.90 218.35Z" stroke="#0000ff" stroke-width="1.05" fill="none"/><path d="M412.43 214.90L415.88 218.35L412.43 221.80L408.98 218.35Z" stroke="#0000ff" stroke-width="1.05" fill="none"/><path d="M421.50 214.90L424.95 218.35L421.50 221.80L418.05 218.35Z" stroke="#0000ff" stroke-width="1.05" fill="none"/><text x="151.7" y="146.52" text-anchor="end" font-family="Liberation Sans, sans-serif" font-size="10" fill="#111" stroke="#111" stroke-width="0.2" textLength="84.2" lengthAdjust="spacingAndGlyphs">Write-through (0)</text><path d="M158.0 142.62H189.0" stroke="#ff0000" stroke-width="1.5" fill="none"/><path d="M173.50 146.32L177.40 140.22H169.60Z" stroke="#ff0000" stroke-width="1.05" fill="none"/><path d="M67.58 5.90L76.65 5.90L85.73 5.90L94.80 5.90L103.88 5.90L112.95 5.90L122.03 5.90L131.10 5.90L140.18 5.90L149.25 5.90L158.32 5.90L167.40 5.90L176.48 5.90L185.55 5.90L194.62 5.90L203.70 6.54L212.78 13.34L221.85 28.42L230.93 53.91L240.00 101.29L249.08 152.92L258.15 191.16L267.23 209.64L276.30 216.65L285.38 218.14L294.45 218.35L303.52 218.35L312.60 218.35L321.68 218.35L330.75 218.35L339.82 218.35L348.90 218.35L357.98 218.35L367.05 218.35L376.12 218.35L385.20 218.35L394.28 218.35L403.35 218.35L412.43 218.35L421.50 218.35" stroke="#ff0000" stroke-width="1.5" fill="none" stroke-linejoin="round"/><path d="M67.58 9.60L71.48 3.50H63.68Z" stroke="#ff0000" stroke-width="1.05" fill="none"/><path d="M76.65 9.60L80.55 3.50H72.75Z" stroke="#ff0000" stroke-width="1.05" fill="none"/><path d="M85.73 9.60L89.63 3.50H81.83Z" stroke="#ff0000" stroke-width="1.05" fill="none"/><path d="M94.80 9.60L98.70 3.50H90.90Z" stroke="#ff0000" stroke-width="1.05" fill="none"/><path d="M103.88 9.60L107.78 3.50H99.97Z" stroke="#ff0000" stroke-width="1.05" fill="none"/><path d="M112.95 9.60L116.85 3.50H109.05Z" stroke="#ff0000" stroke-width="1.05" fill="none"/><path d="M122.03 9.60L125.93 3.50H118.12Z" stroke="#ff0000" stroke-width="1.05" fill="none"/><path d="M131.10 9.60L135.00 3.50H127.20Z" stroke="#ff0000" stroke-width="1.05" fill="none"/><path d="M140.18 9.60L144.08 3.50H136.28Z" stroke="#ff0000" stroke-width="1.05" fill="none"/><path d="M149.25 9.60L153.15 3.50H145.35Z" stroke="#ff0000" stroke-width="1.05" fill="none"/><path d="M158.32 9.60L162.22 3.50H154.42Z" stroke="#ff0000" stroke-width="1.05" fill="none"/><path d="M167.40 9.60L171.30 3.50H163.50Z" stroke="#ff0000" stroke-width="1.05" fill="none"/><path d="M176.48 9.60L180.38 3.50H172.58Z" stroke="#ff0000" stroke-width="1.05" fill="none"/><path d="M185.55 9.60L189.45 3.50H181.65Z" stroke="#ff0000" stroke-width="1.05" fill="none"/><path d="M194.62 9.60L198.53 3.50H190.72Z" stroke="#ff0000" stroke-width="1.05" fill="none"/><path d="M203.70 10.24L207.60 4.14H199.80Z" stroke="#ff0000" stroke-width="1.05" fill="none"/><path d="M212.78 17.04L216.68 10.94H208.88Z" stroke="#ff0000" stroke-width="1.05" fill="none"/><path d="M221.85 32.12L225.75 26.02H217.95Z" stroke="#ff0000" stroke-width="1.05" fill="none"/><path d="M230.93 57.61L234.83 51.51H227.03Z" stroke="#ff0000" stroke-width="1.05" fill="none"/><path d="M240.00 104.99L243.90 98.89H236.10Z" stroke="#ff0000" stroke-width="1.05" fill="none"/><path d="M249.08 156.62L252.98 150.52H245.18Z" stroke="#ff0000" stroke-width="1.05" fill="none"/><path d="M258.15 194.86L262.05 188.76H254.25Z" stroke="#ff0000" stroke-width="1.05" fill="none"/><path d="M267.23 213.34L271.12 207.24H263.33Z" stroke="#ff0000" stroke-width="1.05" fill="none"/><path d="M276.30 220.35L280.20 214.25H272.40Z" stroke="#ff0000" stroke-width="1.05" fill="none"/><path d="M285.38 221.84L289.27 215.74H281.48Z" stroke="#ff0000" stroke-width="1.05" fill="none"/><path d="M294.45 222.05L298.35 215.95H290.55Z" stroke="#ff0000" stroke-width="1.05" fill="none"/><path d="M303.52 222.05L307.42 215.95H299.62Z" stroke="#ff0000" stroke-width="1.05" fill="none"/><path d="M312.60 222.05L316.50 215.95H308.70Z" stroke="#ff0000" stroke-width="1.05" fill="none"/><path d="M321.68 222.05L325.57 215.95H317.78Z" stroke="#ff0000" stroke-width="1.05" fill="none"/><path d="M330.75 222.05L334.65 215.95H326.85Z" stroke="#ff0000" stroke-width="1.05" fill="none"/><path d="M339.82 222.05L343.72 215.95H335.93Z" stroke="#ff0000" stroke-width="1.05" fill="none"/><path d="M348.90 222.05L352.80 215.95H345.00Z" stroke="#ff0000" stroke-width="1.05" fill="none"/><path d="M357.98 222.05L361.88 215.95H354.08Z" stroke="#ff0000" stroke-width="1.05" fill="none"/><path d="M367.05 222.05L370.95 215.95H363.15Z" stroke="#ff0000" stroke-width="1.05" fill="none"/><path d="M376.12 222.05L380.02 215.95H372.23Z" stroke="#ff0000" stroke-width="1.05" fill="none"/><path d="M385.20 222.05L389.10 215.95H381.30Z" stroke="#ff0000" stroke-width="1.05" fill="none"/><path d="M394.28 222.05L398.18 215.95H390.38Z" stroke="#ff0000" stroke-width="1.05" fill="none"/><path d="M403.35 222.05L407.25 215.95H399.45Z" stroke="#ff0000" stroke-width="1.05" fill="none"/><path d="M412.43 222.05L416.32 215.95H408.53Z" stroke="#ff0000" stroke-width="1.05" fill="none"/><path d="M421.50 222.05L425.40 215.95H417.60Z" stroke="#ff0000" stroke-width="1.05" fill="none"/><text x="151.7" y="157.98" text-anchor="end" font-family="Liberation Sans, sans-serif" font-size="10" fill="#111" stroke="#111" stroke-width="0.2" textLength="69.6" lengthAdjust="spacingAndGlyphs">No data cache</text><path d="M158.0 154.08H189.0" stroke="#00ff00" stroke-width="1.5" fill="none"/><path d="M173.50 157.78L177.40 151.68H169.60Z" stroke="#00ff00" stroke-width="1.05" fill="#00ff00"/><path d="M67.58 5.90L76.65 5.90L85.73 5.90L94.80 5.90L103.88 5.90L112.95 6.54L122.03 13.97L131.10 39.68L140.18 93.22L149.25 164.81L158.32 203.48L167.40 215.59L176.48 217.71L185.55 218.35L194.62 218.35L203.70 218.35L212.78 218.35L221.85 218.35L230.93 218.35L240.00 218.35L249.08 218.35L258.15 218.35L267.23 218.35L276.30 218.35L285.38 218.35L294.45 218.35L303.52 218.35L312.60 218.35L321.68 218.35L330.75 218.35L339.82 218.35L348.90 218.35L357.98 218.35L367.05 218.35L376.12 218.35L385.20 218.35L394.28 218.35L403.35 218.35L412.43 218.35L421.50 218.35" stroke="#00ff00" stroke-width="1.5" fill="none" stroke-linejoin="round"/><path d="M67.58 9.60L71.48 3.50H63.68Z" stroke="#00ff00" stroke-width="1.05" fill="#00ff00"/><path d="M76.65 9.60L80.55 3.50H72.75Z" stroke="#00ff00" stroke-width="1.05" fill="#00ff00"/><path d="M85.73 9.60L89.63 3.50H81.83Z" stroke="#00ff00" stroke-width="1.05" fill="#00ff00"/><path d="M94.80 9.60L98.70 3.50H90.90Z" stroke="#00ff00" stroke-width="1.05" fill="#00ff00"/><path d="M103.88 9.60L107.78 3.50H99.97Z" stroke="#00ff00" stroke-width="1.05" fill="#00ff00"/><path d="M112.95 10.24L116.85 4.14H109.05Z" stroke="#00ff00" stroke-width="1.05" fill="#00ff00"/><path d="M122.03 17.67L125.93 11.57H118.12Z" stroke="#00ff00" stroke-width="1.05" fill="#00ff00"/><path d="M131.10 43.38L135.00 37.28H127.20Z" stroke="#00ff00" stroke-width="1.05" fill="#00ff00"/><path d="M140.18 96.92L144.08 90.82H136.28Z" stroke="#00ff00" stroke-width="1.05" fill="#00ff00"/><path d="M149.25 168.51L153.15 162.41H145.35Z" stroke="#00ff00" stroke-width="1.05" fill="#00ff00"/><path d="M158.32 207.18L162.22 201.08H154.42Z" stroke="#00ff00" stroke-width="1.05" fill="#00ff00"/><path d="M167.40 219.29L171.30 213.19H163.50Z" stroke="#00ff00" stroke-width="1.05" fill="#00ff00"/><path d="M176.48 221.41L180.38 215.31H172.58Z" stroke="#00ff00" stroke-width="1.05" fill="#00ff00"/><path d="M185.55 222.05L189.45 215.95H181.65Z" stroke="#00ff00" stroke-width="1.05" fill="#00ff00"/><path d="M194.62 222.05L198.53 215.95H190.72Z" stroke="#00ff00" stroke-width="1.05" fill="#00ff00"/><path d="M203.70 222.05L207.60 215.95H199.80Z" stroke="#00ff00" stroke-width="1.05" fill="#00ff00"/><path d="M212.78 222.05L216.68 215.95H208.88Z" stroke="#00ff00" stroke-width="1.05" fill="#00ff00"/><path d="M221.85 222.05L225.75 215.95H217.95Z" stroke="#00ff00" stroke-width="1.05" fill="#00ff00"/><path d="M230.93 222.05L234.83 215.95H227.03Z" stroke="#00ff00" stroke-width="1.05" fill="#00ff00"/><path d="M240.00 222.05L243.90 215.95H236.10Z" stroke="#00ff00" stroke-width="1.05" fill="#00ff00"/><path d="M249.08 222.05L252.98 215.95H245.18Z" stroke="#00ff00" stroke-width="1.05" fill="#00ff00"/><path d="M258.15 222.05L262.05 215.95H254.25Z" stroke="#00ff00" stroke-width="1.05" fill="#00ff00"/><path d="M267.23 222.05L271.12 215.95H263.33Z" stroke="#00ff00" stroke-width="1.05" fill="#00ff00"/><path d="M276.30 222.05L280.20 215.95H272.40Z" stroke="#00ff00" stroke-width="1.05" fill="#00ff00"/><path d="M285.38 222.05L289.27 215.95H281.48Z" stroke="#00ff00" stroke-width="1.05" fill="#00ff00"/><path d="M294.45 222.05L298.35 215.95H290.55Z" stroke="#00ff00" stroke-width="1.05" fill="#00ff00"/><path d="M303.52 222.05L307.42 215.95H299.62Z" stroke="#00ff00" stroke-width="1.05" fill="#00ff00"/><path d="M312.60 222.05L316.50 215.95H308.70Z" stroke="#00ff00" stroke-width="1.05" fill="#00ff00"/><path d="M321.68 222.05L325.57 215.95H317.78Z" stroke="#00ff00" stroke-width="1.05" fill="#00ff00"/><path d="M330.75 222.05L334.65 215.95H326.85Z" stroke="#00ff00" stroke-width="1.05" fill="#00ff00"/><path d="M339.82 222.05L343.72 215.95H335.93Z" stroke="#00ff00" stroke-width="1.05" fill="#00ff00"/><path d="M348.90 222.05L352.80 215.95H345.00Z" stroke="#00ff00" stroke-width="1.05" fill="#00ff00"/><path d="M357.98 222.05L361.88 215.95H354.08Z" stroke="#00ff00" stroke-width="1.05" fill="#00ff00"/><path d="M367.05 222.05L370.95 215.95H363.15Z" stroke="#00ff00" stroke-width="1.05" fill="#00ff00"/><path d="M376.12 222.05L380.02 215.95H372.23Z" stroke="#00ff00" stroke-width="1.05" fill="#00ff00"/><path d="M385.20 222.05L389.10 215.95H381.30Z" stroke="#00ff00" stroke-width="1.05" fill="#00ff00"/><path d="M394.28 222.05L398.18 215.95H390.38Z" stroke="#00ff00" stroke-width="1.05" fill="#00ff00"/><path d="M403.35 222.05L407.25 215.95H399.45Z" stroke="#00ff00" stroke-width="1.05" fill="#00ff00"/><path d="M412.43 222.05L416.32 215.95H408.53Z" stroke="#00ff00" stroke-width="1.05" fill="#00ff00"/><path d="M421.50 222.05L425.40 215.95H417.60Z" stroke="#00ff00" stroke-width="1.05" fill="#00ff00"/><path d="M58.5 5.65H54.5M58.5 5.65V218" stroke="#000" stroke-opacity="0.62" stroke-width="1.0" fill="none"/><path d="M58.5 218.9V222.8" stroke="#000" stroke-opacity="0.62" stroke-width="1.0" fill="none"/><path d="M54.5 218.3H422.0" stroke="#000" stroke-opacity="0.62" stroke-width="1.2" fill="none"/><path d="M54.5 175.61H58" stroke="#000" stroke-opacity="0.62" stroke-width="1.1"/><path d="M54.5 133.12H58" stroke="#000" stroke-opacity="0.62" stroke-width="1.1"/><path d="M54.5 90.63H58" stroke="#000" stroke-opacity="0.62" stroke-width="1.1"/><path d="M54.5 48.14H58" stroke="#000" stroke-opacity="0.62" stroke-width="1.1"/><path d="M131.10 218.9V222.8" stroke="#000" stroke-opacity="0.62" stroke-width="1.0"/><path d="M203.70 218.9V222.8" stroke="#000" stroke-opacity="0.62" stroke-width="1.0"/><path d="M276.30 218.9V222.8" stroke="#000" stroke-opacity="0.62" stroke-width="1.0"/><path d="M348.90 218.9V222.8" stroke="#000" stroke-opacity="0.62" stroke-width="1.0"/><path d="M421.50 218.9V222.8" stroke="#000" stroke-opacity="0.62" stroke-width="1.0"/></svg></body></html>
